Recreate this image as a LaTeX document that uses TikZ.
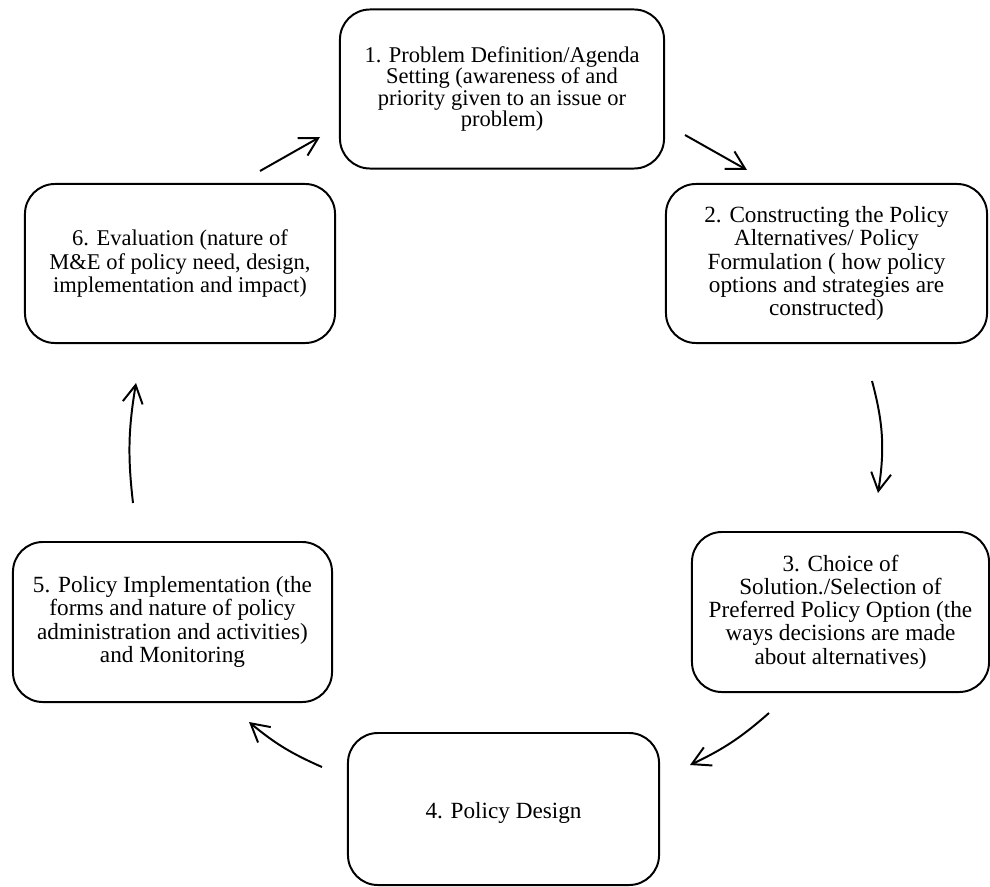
\documentclass[tikz,border=0pt]{standalone}
\usepackage{fontspec}
\setmainfont{Liberation Serif}
\usetikzlibrary{arrows.meta,positioning}
\tikzset{
  stage/.style={draw, line width=1.4pt, rounded corners=0.75cm, align=center,
    inner sep=0pt, font=\fontsize{16.5}{16.5}\selectfont},
  cyc/.style={line width=1.4pt, -{Straight Barb[length=0.45cm,width=0.5cm]}}
}

\begin{document}
\begin{tikzpicture}[x=0.025cm, y=-0.025cm]
    \useasboundingbox (0,0) rectangle (990,886);
    \node [stage, minimum width=8.1cm, minimum height=3.975cm, font=\fontsize{16}{15.2}\selectfont] (s1) at (502,89)
    {1. Problem Definition/Agenda\\ Setting (awareness of and\\ priority given to an issue or\\ problem)};
    \node [stage, minimum width=8.025cm, minimum height=3.975cm] (s2) at (826.5,263.5)
    {2. Constructing the Policy\\ Alternatives/ Policy\\ Formulation ( how policy\\ options and strategies are\\ constructed)};
    \node [stage, minimum width=7.425cm, minimum height=4cm] (s3) at (840.5,612)
    {3. Choice of\\ Solution./Selection of\\ Preferred Policy Option (the\\ ways decisions are made\\ about alternatives)};
    \node [stage, minimum width=7.775cm, minimum height=3.8cm, text height=17pt] (s4) at (503.5,809)
    {4. Policy Design};
    \node [stage, minimum width=7.975cm, minimum height=4cm] (s5) at (172.5,622)
    {5. Policy Implementation (the\\ forms and nature of policy\\ administration and activities)\\ and Monitoring};
    \node [stage, minimum width=7.75cm, minimum height=3.975cm, font=\fontsize{16}{16.5}\selectfont] (s6) at (180,263.5)
    {6. Evaluation (nature of\\ M\&E of policy need, design,\\ implementation and impact)};
    \coordinate (t61) at (260,171);
    \coordinate (h61) at (320,137);
    \coordinate (t12) at (685,135);
    \coordinate (h12) at (747,170);
    \coordinate (t23) at (872,381);
    \coordinate (h23) at (878,493);
    \coordinate (t34) at (769,713);
    \coordinate (h34) at (690,765);
    \coordinate (t45) at (322,767);
    \coordinate (h45) at (249,722);
    \coordinate (t56) at (133,503);
    \coordinate (h56) at (136,383);
    \draw [cyc] (t61) -- (h61);
    \draw [cyc] (t12) -- (h12);
    \draw [cyc] (t23) to [bend left=12] (h23);
    \draw [cyc] (t34) to [bend left=8] (h34);
    \draw [cyc] (t45) to [bend left=8] (h45);
    \draw [cyc] (t56) to [bend left=8] (h56);
  \end{tikzpicture}
\end{document}
